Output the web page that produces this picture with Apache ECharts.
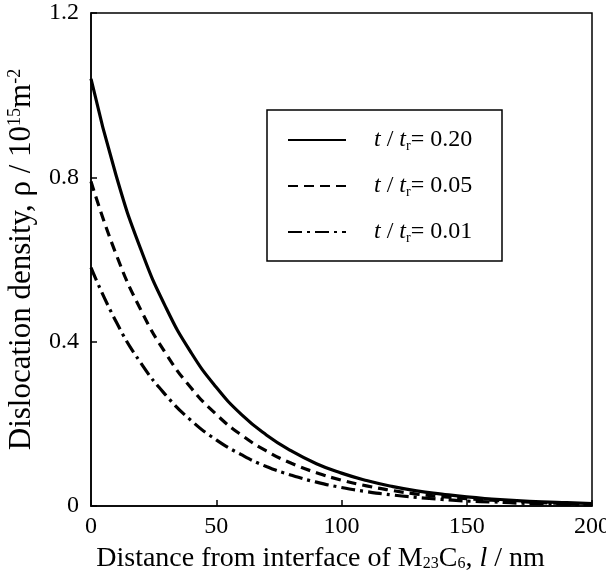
<!DOCTYPE html>
<html>
<head>
<meta charset="utf-8">
<script src="https://cdn.jsdelivr.net/npm/echarts@6/dist/echarts.min.js"></script>
<style>html,body{margin:0;padding:0;background:#fff}#c{width:606px;height:574px}</style>
</head>
<body>
<div id="c"></div>
<script>
const distance = [0,10,20,30,40,50,60,70,80,90,100,110,120,130,140,150,160,170,180,190,200];
const rho_020 = [1.04,0.805,0.623,0.482,0.373,0.289,0.223,0.173,0.134,0.103,0.080,0.062,0.048,0.037,0.029,0.022,0.017,0.013,0.010,0.008,0.006];
const rho_005 = [0.79,0.613,0.476,0.370,0.287,0.223,0.173,0.134,0.104,0.081,0.063,0.049,0.038,0.029,0.023,0.018,0.014,0.011,0.008,0.006,0.005];
const rho_001 = [0.58,0.449,0.347,0.269,0.208,0.161,0.125,0.096,0.075,0.058,0.045,0.035,0.027,0.021,0.016,0.012,0.010,0.007,0.006,0.004,0.003];
const seriesNames = ['0.20','0.05','0.01'];
const xTicks = [0,50,100,150,200];
const yTicks = [0,0.4,0.8,1.2];

const FONT = '"Liberation Serif", "Times New Roman", serif';
const chart = echarts.init(document.getElementById('c'));
const pair = (ys) => distance.map((x,i)=>[x,ys[i]]);
const lineCommon = {type:'line', smooth:true, symbol:'none', color:'#000'};
chart.setOption({
  animation:false,
  backgroundColor:'#fff',
  grid:{left:91,right:14,top:13,bottom:68,containLabel:false,outerBoundsMode:'none',show:true,borderColor:'#000',borderWidth:1.5,backgroundColor:'transparent'},
  xAxis:{type:'value',min:0,max:200,interval:50,
    axisLine:{lineStyle:{color:'#000',width:1.5}},
    axisTick:{inside:true,length:6,lineStyle:{color:'#000',width:1.5}},
    splitLine:{show:false},
    axisLabel:{color:'#000',fontFamily:FONT,fontSize:24,margin:9,formatter:v=>xTicks.includes(v)?String(v):''},
    name:'Distance from interface of M{sub|23}C{sub|6}, {i|l} / nm',
    nameLocation:'middle',nameGap:26,
    nameTextStyle:{color:'#000',fontFamily:FONT,fontSize:28,lineHeight:30,padding:[0,42,0,0],
      rich:{sub:{fontFamily:FONT,fontSize:16,color:'#000',lineHeight:30,padding:[10,0,0,0]},i:{fontFamily:FONT,fontSize:28,lineHeight:30,fontStyle:'italic',color:'#000'}}}
  },
  yAxis:{type:'value',min:0,max:1.2,interval:0.4,
    axisLine:{lineStyle:{color:'#000',width:1.5}},
    axisTick:{inside:true,length:6,lineStyle:{color:'#000',width:1.5}},
    splitLine:{show:false},
    axisLabel:{color:'#000',fontFamily:FONT,fontSize:24,margin:12,formatter:v=>{const t=yTicks.find(k=>Math.abs(k-v)<1e-9);return t===undefined?'':(t===0?'0':t.toFixed(1));}},
    name:'Dislocation density, ρ / 10{sup|15}m{sup|-2}',
    nameLocation:'middle',nameGap:45,nameRotate:90,
    nameTextStyle:{color:'#000',fontFamily:FONT,fontSize:31,lineHeight:33,
      rich:{sup:{fontFamily:FONT,fontSize:18,color:'#000',lineHeight:33,padding:[0,0,13,0]}}}
  },
  legend:{orient:'vertical',left:287,top:125,padding:0,itemWidth:58,itemHeight:14,itemGap:16,
    data:seriesNames,
    itemStyle:{opacity:0},
    formatter:n=>'{i|t} / {i|t}{sub|r}= '+n,
    textStyle:{color:'#000',fontFamily:FONT,fontSize:24,lineHeight:30,padding:[0,0,0,23],
      rich:{i:{fontFamily:FONT,fontSize:24,lineHeight:30,fontStyle:'italic',color:'#000'},sub:{fontFamily:FONT,fontSize:14,lineHeight:30,color:'#000',padding:[12,0,0,0]}}}
  },
  graphic:[{type:'rect',shape:{x:267,y:110,width:235,height:151},style:{fill:'none',stroke:'#000',lineWidth:1.5},z:100}],
  series:[
    Object.assign({name:seriesNames[0],data:pair(rho_020),lineStyle:{color:'#000',width:3.2,type:'solid'}},lineCommon),
    Object.assign({name:seriesNames[1],data:pair(rho_005),lineStyle:{color:'#000',width:3.2,type:[10,6]}},lineCommon),
    Object.assign({name:seriesNames[2],data:pair(rho_001),lineStyle:{color:'#000',width:3.2,type:[14,5,3,5]}},lineCommon)
  ]
});
</script>
</body>
</html>
